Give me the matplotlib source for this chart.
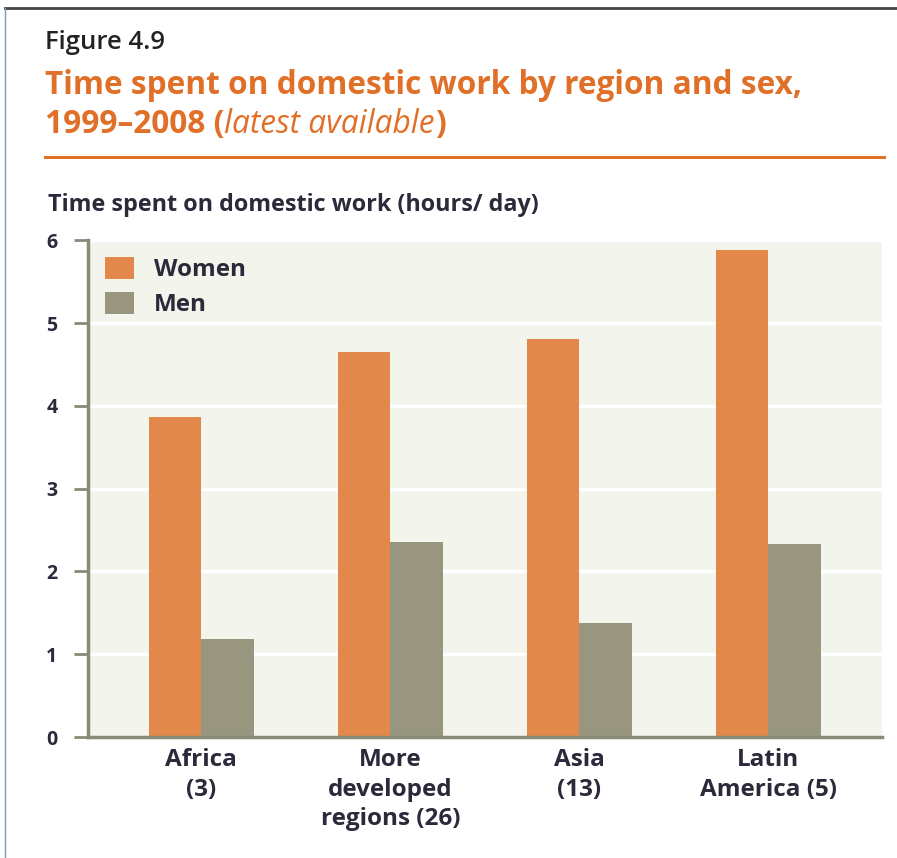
import numpy as np
import matplotlib.pyplot as plt
from matplotlib.lines import Line2D

regions = ['Africa\n(3)', 'More\ndeveloped\nregions (26)', 'Asia\n(13)', 'Latin\nAmerica (5)']
women = [3.86, 4.65, 4.81, 5.88]
men = [1.18, 2.35, 1.38, 2.33]
yticks = [0, 1, 2, 3, 4, 5, 6]

orange = '#e2884a'
grey = '#98967f'
axis_col = '#8a8a78'
txt = '#2a2a3a'
title_col = '#e07028'

plt.rcParams['font.family'] = ['Open Sans', 'DejaVu Sans']

fig = plt.figure(figsize=(8.97, 8.58), dpi=100)
ax = fig.add_axes([0.098, 0.141, 0.885, 0.579])
ax.set_facecolor('#f3f4ec')

x = np.arange(len(regions))
w = 0.277
ax.bar(x - w / 2, women, w, color=orange, label='Women', zorder=3)
ax.bar(x + w / 2, men, w, color=grey, label='Men', zorder=3)

ax.set_xlim(-0.6, 3.6)
ax.set_ylim(0, 6)
ax.set_yticks(yticks)
ax.set_yticklabels([str(v) for v in yticks], fontsize=14, fontweight='bold', color=txt)
ax.yaxis.grid(True, color='white', lw=2.5, zorder=1)
ax.set_axisbelow(True)
ax.set_xticks(x)
ax.set_xticklabels(regions, fontsize=17.5, fontweight='bold', color=txt, linespacing=1.3)
ax.tick_params(axis='x', length=0, pad=8)
ax.tick_params(axis='y', length=10, width=2, color=axis_col, direction='out', pad=12)

for s in ['top', 'right']:
    ax.spines[s].set_visible(False)
ax.spines['left'].set_color(axis_col)
ax.spines['left'].set_linewidth(2.5)
ax.spines['bottom'].set_color(axis_col)
ax.spines['bottom'].set_linewidth(2.5)
ax.spines['bottom'].set_zorder(4)

ax.legend(loc='upper left', frameon=False, handlelength=1.2, handleheight=1.0,
          borderaxespad=0.3, labelspacing=0.4, handletextpad=0.8,
          prop={'weight': 'bold', 'size': 17.5})
for t in ax.get_legend().get_texts():
    t.set_color(txt)

fig.text(0.05, 0.951, 'Figure 4.9', fontsize=18.5, fontweight='semibold', color='#222222', va='center')
fig.text(0.05, 0.900, 'Time spent on domestic work by region and sex,', fontsize=22.8,
         fontweight='bold', color=title_col, va='center')
t1 = fig.text(0.05, 0.855, '1999\u20132008 (', fontsize=22.8, fontweight='bold', color=title_col, va='center')
fig.canvas.draw()
x1 = t1.get_window_extent().x1 / fig.bbox.width
t2 = fig.text(x1, 0.855, 'latest available', fontsize=22.8, style='italic', color=title_col, va='center')
fig.canvas.draw()
x2 = t2.get_window_extent().x1 / fig.bbox.width
fig.text(x2, 0.855, ')', fontsize=22.8, fontweight='bold', color=title_col, va='center')

fig.add_artist(Line2D([0.05, 0.985], [0.817, 0.817], color=title_col, lw=2.2))
fig.text(0.053, 0.761, 'Time spent on domestic work (hours/ day)', fontsize=16.8,
         fontweight='bold', color=txt, va='center')

fig.add_artist(Line2D([0.006, 1.0], [0.991, 0.991], color='#444444', lw=2))
fig.add_artist(Line2D([0.006, 0.006], [0.0, 0.991], color='#7799bb', lw=1))

fig.savefig('out.png', dpi=100)
